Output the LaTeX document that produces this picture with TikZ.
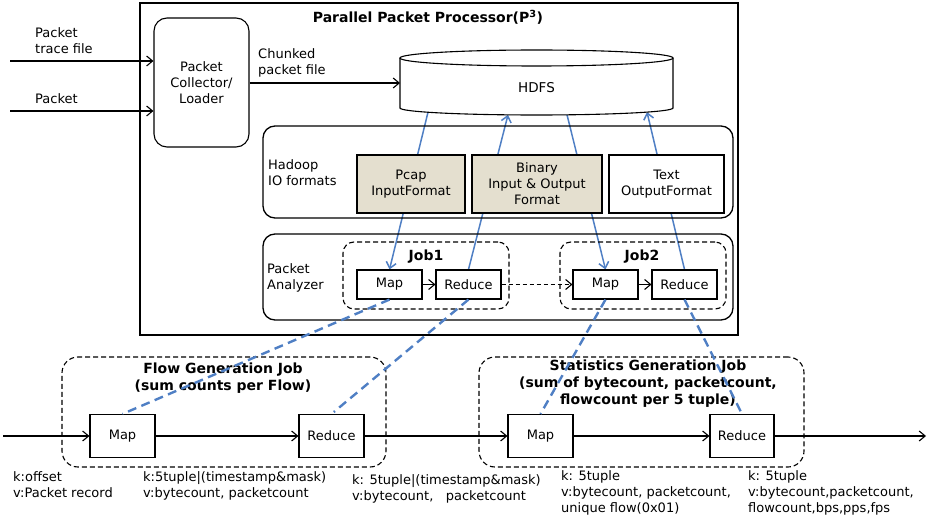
\documentclass[tikz,border=0pt]{standalone}
\usepackage{fontspec}
\setmainfont{DejaVu Sans}
\usetikzlibrary{arrows.meta,calc}
\pgfdeclarelayer{background}
\pgfsetlayers{background,main}
\definecolor{linkblue}{HTML}{4F7FC4}
\definecolor{fmtfill}{HTML}{E4DFCF}
\tikzset{
  txt/.style={font=\fontsize{13}{16}\selectfont, inner sep=0pt},
  ttl/.style={font=\bfseries\fontsize{14}{17}\selectfont, inner sep=0pt, align=center},
  box/.style={draw, line width=1.1pt, inner sep=0pt, fill=white, align=center,
    font=\fontsize{13}{16}\selectfont},
  frame/.style={draw, line width=1.3pt, rounded corners=12pt, inner sep=0pt},
  jobframe/.style={draw, line width=1.1pt, dash pattern=on 5pt off 3pt, rounded corners=11pt, inner sep=0pt},
  flowarrow/.style={-{Straight Barb[length=6pt,width=10pt]}, line width=1.1pt},
  bluelink/.style={linkblue, line width=1.5pt},
  bluearrow/.style={bluelink, -{Straight Barb[length=6pt,width=10pt]}},
  trace/.style={linkblue, line width=2.4pt, dash pattern=on 9pt off 5.5pt},
}
\begin{document}
\begin{tikzpicture}[x=1pt,y=-1pt]
\useasboundingbox (0,0) rectangle (931,521);

% Parallel Packet Processor frame
\node[draw, line width=1.5pt, minimum width=598pt, minimum height=332pt, inner sep=0pt] (p3) at (439,169) {};
\node[ttl] (p3title) at (428,17) {Parallel Packet Processor(P\textsuperscript{3})};

% Collector / loader
\node[box, rounded corners=13pt, minimum width=95pt, minimum height=129pt] (collector) at (201.5,82.5) {Packet\\Collector/\\Loader};

\coordinate (in1) at (10,61);
\coordinate (in2) at (10,111);
\draw[flowarrow] (in1) -- (in1 -| collector.west);
\draw[flowarrow] (in2) -- (in2 -| collector.west);
\node[txt, anchor=west, align=left] (lbltrace) at (35,41) {Packet\\trace file};
\node[txt, anchor=west] (lblpacket) at (35,99) {Packet};
\node[txt, anchor=west, align=left] (lblchunk) at (258,63) {Chunked\\packet file};

% HDFS cylinder
\draw[line width=1.1pt, fill=white] (400,58) -- (400,108)
  arc[start angle=180, end angle=360, x radius=136.5pt, y radius=7pt] -- (673,58);
\draw[line width=1.1pt] (536.5,58) ellipse[x radius=136.5pt, y radius=8pt];
\node[txt, font=\fontsize{13.5}{16}\selectfont] (hdfs) at (536.5,88) {HDFS};
\coordinate (hdfsin) at (400,83);
\coordinate (h1) at (428,112.2);
\coordinate (h2) at (508,114.8);
\coordinate (h3) at (567,114.8);
\coordinate (h4) at (647,112.1);
\draw[flowarrow] (collector.east |- hdfsin) -- (hdfsin);

% Hadoop IO formats
\node[frame, minimum width=470pt, minimum height=92pt] (hadoop) at (498,172) {};
\node[txt, anchor=west, align=left] (lblhadoop) at (268,173) {Hadoop\\IO formats};
\node[box, fill=fmtfill, minimum width=108pt, minimum height=58pt] (pcap) at (411,184) {Pcap\\InputFormat};
\node[box, fill=fmtfill, minimum width=130pt, minimum height=58pt] (binary) at (537,184) {Binary\\Input \& Output\\Format};
\node[box, minimum width=115pt, minimum height=58pt] (textfmt) at (666.5,184) {Text\\OutputFormat};

% Packet analyzer
\node[frame, minimum width=470pt, minimum height=86pt] (analyzer) at (498,277) {};
\node[txt, anchor=west, align=left] (lblanalyzer) at (267,278) {Packet\\Analyzer};
\node[jobframe, minimum width=166pt, minimum height=67pt] (job1) at (426,275.5) {};
\node[jobframe, minimum width=166pt, minimum height=67pt] (job2) at (643,275.5) {};
\node[ttl] (job1title) at (426,257) {Job1};
\node[ttl] (job2title) at (642,257) {Job2};
\node[box, minimum width=65pt, minimum height=29pt] (map1) at (389.5,284.5) {Map};
\node[box, minimum width=65pt, minimum height=29pt] (red1) at (468.5,284.5) {Reduce};
\node[box, minimum width=65pt, minimum height=29pt] (map2) at (605.5,284.5) {Map};
\node[box, minimum width=65pt, minimum height=29pt] (red2) at (684.5,284.5) {Reduce};
\draw[flowarrow] (map1) -- (red1);
\draw[flowarrow, dash pattern=on 4pt off 3pt] (red1) -- (map2);
\draw[flowarrow] (map2) -- (red2);

% Data paths between HDFS and the jobs (behind the format boxes)
\begin{pgfonlayer}{background}
  \draw[bluearrow] (h1) -- (map1.north);
  \draw[bluearrow] (red1.north) -- (h2);
  \draw[bluearrow] (h3) -- (map2.north);
  \draw[bluearrow] (red2.north) -- (h4);
\end{pgfonlayer}

% MapReduce pipeline
\node[jobframe, rounded corners=16pt, minimum width=324pt, minimum height=110pt] (flowjob) at (224,412) {};
\node[jobframe, rounded corners=16pt, minimum width=325pt, minimum height=110pt] (statjob) at (641.5,412) {};
\node[ttl] (flowtitle) at (223,378.5) {Flow Generation Job\\(sum counts per Flow)};
\node[ttl] (stattitle) at (648,384) {Statistics Generation Job\\(sum of bytecount, packetcount,\\flowcount per 5 tuple)};

\node[box, minimum width=65pt, minimum height=43pt] (fmap) at (122.5,436) {Map};
\node[box, minimum width=65pt, minimum height=43pt] (fred) at (331.5,436) {Reduce};
\node[box, minimum width=65pt, minimum height=43pt] (smap) at (540.5,436) {Map};
\node[box, minimum width=64pt, minimum height=43pt] (sred) at (742,436) {Reduce};

\coordinate (src) at (3,436);
\coordinate (sink) at (926,436);
\draw[flowarrow] (src) -- (fmap);
\draw[flowarrow] (fmap) -- (fred);
\draw[flowarrow] (fred) -- (smap);
\draw[flowarrow] (smap) -- (sred);
\draw[flowarrow] (sred) -- (sink);

% Job stages traced down to the pipeline
\draw[trace] (map1.south) -- (fmap.north);
\draw[trace, shorten >=3pt] (red1.south) -- (fred.north);
\draw[trace] (map2.south) -- (smap.north);
\draw[trace] (red2.south) -- (sred.north);

% Key / value annotations
\node[txt, anchor=west, align=left] (kv1) at (13,485) {k:offset\\v:Packet record};
\node[txt, anchor=west, align=left] (kv2) at (143,485.5) {k:5tuple|(timestamp\&mask)\\v:bytecount, packetcount};
\node[txt, anchor=west, align=left] (kv3) at (352,488.5) {k: 5tuple|(timestamp\&mask)\\v:bytecount,\ \ \ packetcount};
\node[txt, anchor=west, align=left] (kv4) at (561,492.5) {k: 5tuple\\v:bytecount, packetcount,\\unique flow(0x01)};
\node[txt, anchor=west, align=left] (kv5) at (748,492.5) {k: 5tuple\\v:bytecount,packetcount,\\flowcount,bps,pps,fps};
\end{tikzpicture}
\end{document}
